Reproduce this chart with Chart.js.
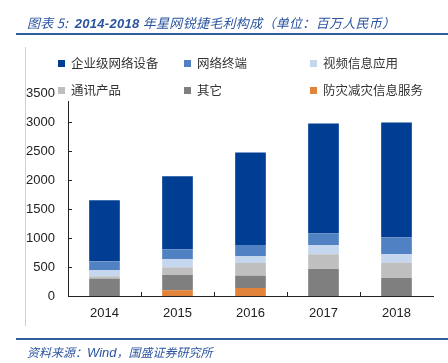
<!DOCTYPE html>
<html><head><meta charset="utf-8">
<script src="https://cdn.jsdelivr.net/npm/chart.js@4/dist/chart.umd.min.js"></script>
<style>
html,body{margin:0;padding:0;background:#fff;}
#wrap{position:relative;width:448px;height:363px;overflow:hidden;font-family:"Noto Sans CJK SC","Liberation Sans",sans-serif;}
#c{position:absolute;left:0;top:0;}
#title{position:absolute;left:27px;top:13px;font-size:13px;letter-spacing:0.3px;font-style:italic;color:#2A54A0;white-space:nowrap;line-height:20px;}
#title b{font-family:"Liberation Sans",Arial,sans-serif;font-weight:bold;}
#tline{position:absolute;left:16px;top:33px;width:432px;height:2px;background:#2F5D9E;}
#vline{position:absolute;left:25px;top:47px;width:1px;height:279px;background:#D0D0D0;}
#fline{position:absolute;left:16px;top:338px;width:432px;height:2px;background:#2F5D9E;}
#foot{position:absolute;left:27px;top:343px;font-size:12px;font-style:italic;color:#2A54A0;white-space:nowrap;line-height:18px;}
#foot span{font-family:"Liberation Sans",Arial,sans-serif;font-size:13px;}
#legend{position:absolute;left:58px;top:50px;width:385px;height:51px;background:#fff;}
.li{position:absolute;font-size:12.5px;color:#333;white-space:nowrap;line-height:16px;}
.li i{display:inline-block;width:7px;height:7px;margin-right:6px;vertical-align:1px;}
</style></head>
<body>
<div id="wrap">
<canvas id="c" width="448" height="363"></canvas>
<div id="vline"></div>
<div id="title">图表 5: &nbsp;<b>2014-2018</b> 年星网锐捷毛利构成（单位：百万人民币）</div>
<div id="tline"></div>
<div id="legend"></div>
<div id="fline"></div>
<div id="foot">资料来源：<span>Wind</span>，国盛证券研究所</div>
</div>
<script>
const years = ['2014','2015','2016','2017','2018'];
const disaster   = [0, 100, 138, 0, 0];
const other      = [300, 262, 213, 466, 310];
const comm       = [40, 133, 219, 253, 266];
const video      = [103, 138, 114, 155, 143];
const terminal   = [155, 167, 196, 202, 288];
const enterprise = [1052, 1264, 1592, 1896, 1983];
const yTicks = [0, 500, 1000, 1500, 2000, 2500, 3000, 3500];

const seriesNames = ['防灾减灾信息服务','其它','通讯产品','视频信息应用','网络终端','企业级网络设备'];
const seriesData = [disaster, other, comm, video, terminal, enterprise];
const colors = ['#E2833A','#7F7F7F','#BFBFBF','#C5D7EE','#4F81C3','#003E93'];
const legendOrder = [5,4,3,2,1,0];

const leg = document.getElementById('legend');
const colX = [0, 126, 252], rowY = [5, 32];
legendOrder.forEach((si, k) => {
  const d = document.createElement('div');
  d.className = 'li';
  d.style.left = colX[k % 3] + 'px';
  d.style.top = rowY[Math.floor(k / 3)] + 'px';
  d.innerHTML = '<i style="background:' + colors[si] + '"></i>' + seriesNames[si];
  leg.appendChild(d);
});

const insideTicks = {
  id: 'insideTicks',
  afterDraw(chart) {
    const ctx = chart.ctx, x = chart.scales.x, y = chart.scales.y;
    ctx.save();
    ctx.strokeStyle = '#222';
    ctx.lineWidth = 1;
    ctx.beginPath();
    yTicks.forEach(v => {
      if (v === 0) return;
      const py = Math.round(y.getPixelForValue(v)) + 0.5;
      ctx.moveTo(x.left, py); ctx.lineTo(x.left + 4, py);
    });
    for (let i = 0; i < years.length - 1; i++) {
      const px = Math.round((x.getPixelForTick(i) + x.getPixelForTick(i + 1)) / 2) + 0.5;
      ctx.moveTo(px, y.bottom); ctx.lineTo(px, y.bottom - 4);
    }
    ctx.stroke();
    ctx.restore();
  }
};

new Chart(document.getElementById('c'), {
  type: 'bar',
  data: {
    labels: years,
    datasets: seriesData.map((d, i) => ({
      label: seriesNames[i], data: d, backgroundColor: colors[i],
      borderWidth: 0, barPercentage: 0.42, categoryPercentage: 1
    }))
  },
  options: {
    responsive: false, animation: false,
    layout: { padding: { left: 0, right: 15, top: 93, bottom: 37 } },
    plugins: { legend: { display: false }, tooltip: { enabled: false } },
    scales: {
      x: {
        stacked: true,
        grid: { display: false, drawTicks: false },
        border: { display: true, color: '#222', width: 1 },
        ticks: { color: '#222', font: { family: 'Liberation Sans', size: 13 }, padding: 10 },
        afterFit(s) { s.height = 30; }
      },
      y: {
        stacked: true, min: 0, max: 3500,
        grid: { display: false, drawTicks: false },
        border: { display: true, color: '#222', width: 1 },
        ticks: { stepSize: 500, color: '#222', font: { family: 'Liberation Sans', size: 13 }, padding: 13,
                 callback: v => String(v) },
        afterFit(s) { s.width = 68; }
      }
    }
  },
  plugins: [insideTicks]
});
</script>
</body></html>
